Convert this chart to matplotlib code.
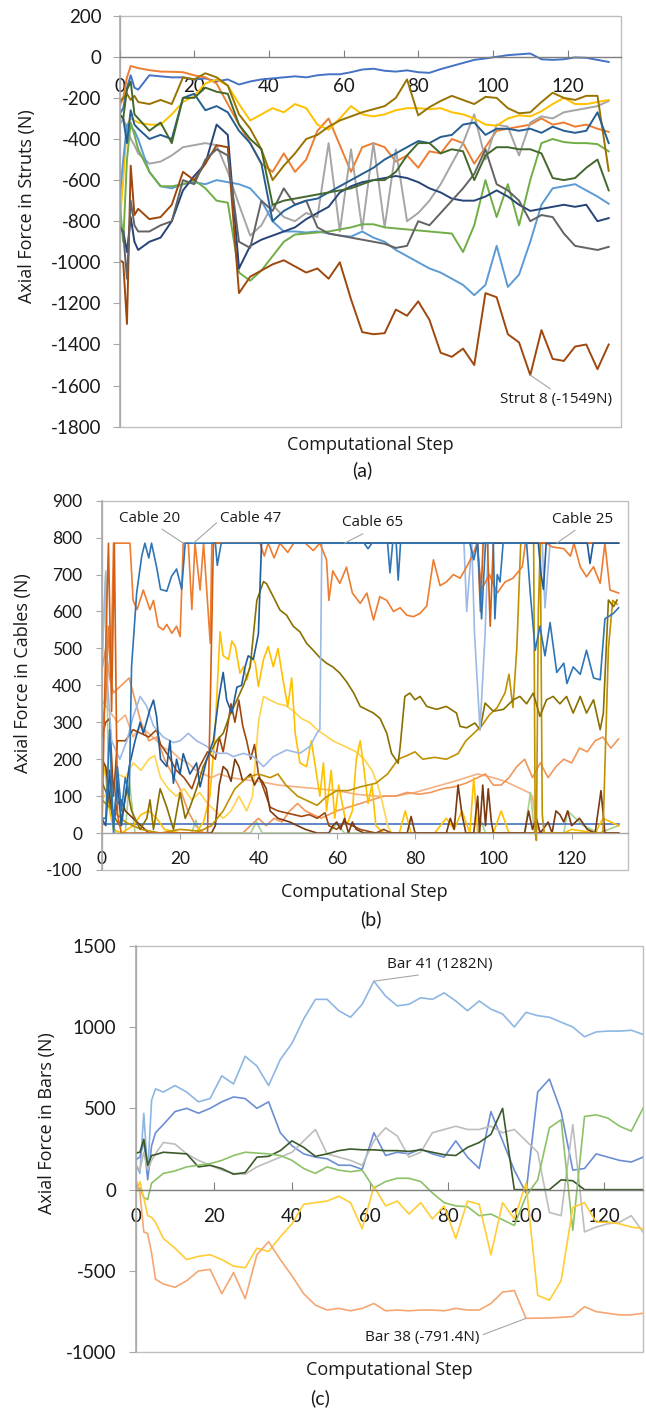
import matplotlib
matplotlib.use("Agg")
import matplotlib.pyplot as plt
from matplotlib.patches import Rectangle

plt.rcParams["font.family"] = ["Open Sans", "DejaVu Sans"]
plt.rcParams["axes.unicode_minus"] = False

FIG_W, FIG_H = 646, 1408
NUM_FONT = ["Lato", "DejaVu Sans"]
TEXT_COLOR = "#1a1a1a"

# ---------------- (a) axial force in struts ----------------
STEPS_A = [0, 1, 2, 3, 4] + list(range(5, 132, 3))

STRUT_COLORS = ["#4472C4", "#ED7D31", "#A5A5A5", "#FFC000", "#5B9BD5", "#70AD47",
                "#264478", "#9E480E", "#636363", "#997300", "#255E91", "#43682B"]

STRUT_BLUE = [-280, -250, -150, -90, -150, -160,
              -90, -95, -100, -100, -110, -105, -120, -110, -135, -120,
              -110, -105, -100, -95, -100, -90, -85, -85, -75, -62,
              -58, -68, -72, -66, -75, -78, -60, -45, -30, -15,
              -8, 0, 8, 12, 16, -12, -15, -12, -3, -5,
              -15, -25]
STRUT_ORANGE = [-240, -200, -100, -45, -50, -55,
                -65, -72, -73, -75, -90, -100, -130, -230, -330, -420,
                -520, -560, -470, -560, -500, -360, -300, -430, -560, -440,
                -420, -440, -510, -480, -540, -460, -470, -400, -420, -520,
                -440, -360, -350, -340, -330, -300, -330, -320, -340, -330,
                -350, -365]
STRUT_GREY = [-330, -300, -350, -400, -430, -470,
              -520, -510, -480, -440, -430, -420, -430, -560, -720, -870,
              -820, -720, -780, -800, -760, -780, -420, -850, -450, -840,
              -420, -830, -450, -800, -760, -700, -620, -520, -420, -280,
              -500, -330, -340, -480, -320, -290, -300, -270, -260, -250,
              -240, -215]
STRUT_GOLD = [-820, -600, -330, -300, -310, -320,
              -330, -330, -280, -220, -190, -130, -110, -140, -230, -310,
              -280, -250, -270, -230, -250, -330, -355, -300, -240, -280,
              -290, -280, -260, -250, -250, -255, -250, -270, -280, -300,
              -330, -335, -300, -285, -290, -265, -230, -200, -230, -230,
              -220, -210]
STRUT_LIGHT_BLUE = [-700, -500, -330, -340, -360, -400,
                    -560, -630, -640, -620, -610, -620, -600, -610, -620, -640,
                    -700, -800, -850, -850, -855, -850, -860, -870, -875, -850,
                    -880, -900, -940, -970, -1000, -1030, -1050, -1080, -1110, -1160,
                    -1110, -920, -1120, -1060, -900, -720, -640, -630, -620, -650,
                    -680, -715]
STRUT_GREEN = [-700, -900, -500, -320, -380, -450,
               -560, -630, -630, -620, -600, -640, -700, -710, -1050, -1090,
               -1040, -970, -900, -865, -860, -855, -850, -840, -830, -815,
               -815, -830, -835, -840, -845, -850, -855, -860, -950, -820,
               -600, -780, -620, -820, -600, -420, -400, -415, -420, -420,
               -425, -460]
STRUT_NAVY = [-830, -850, -950, -780, -900, -940,
              -900, -880, -800, -650, -580, -520, -330, -380, -1030, -920,
              -890, -870, -850, -830, -790, -760, -730, -660, -630, -610,
              -600, -590, -580, -590, -610, -640, -660, -690, -700, -700,
              -680, -650, -680, -720, -750, -740, -730, -720, -730, -720,
              -800, -785]
STRUT_8 = [-990, -1000, -1300, -530, -770, -740,
           -790, -780, -720, -560, -600, -520, -430, -440, -1150, -1070,
           -1040, -1010, -990, -1020, -1050, -1030, -1080, -1000, -1180, -1340,
           -1350, -1345, -1230, -1260, -1190, -1280, -1440, -1460, -1420, -1500,
           -1150, -1170, -1350, -1390, -1549, -1330, -1470, -1480, -1410, -1400,
           -1520, -1400]
STRUT_DARK_GREY = [-820, -860, -1080, -700, -820, -850,
                   -850, -820, -800, -600, -620, -500, -450, -480, -900, -930,
                   -700, -750, -640, -720, -700, -830, -860, -870, -880, -890,
                   -900, -910, -930, -920, -800, -820, -760, -700, -640, -570,
                   -450, -620, -650, -700, -800, -770, -780, -860, -920, -930,
                   -940, -925]
STRUT_OLIVE = [-220, -200, -180, -210, -190, -220,
               -230, -210, -230, -100, -110, -80, -100, -140, -280, -350,
               -450, -600, -530, -470, -400, -380, -340, -310, -290, -270,
               -255, -240, -200, -110, -285, -245, -215, -190, -210, -230,
               -195, -200, -250, -275, -270, -220, -175, -200, -210, -190,
               -190, -555]
STRUT_STEEL = [-280, -300, -420, -260, -330, -350,
               -400, -380, -400, -200, -180, -260, -240, -270, -360, -420,
               -520, -800, -750, -720, -700, -690, -660, -630, -600, -570,
               -540, -500, -470, -440, -410, -420, -390, -380, -330, -320,
               -380, -350, -350, -360, -350, -370, -340, -360, -370, -360,
               -270, -420]
STRUT_DARK_GREEN = [-280, -300, -160, -120, -280, -300,
                    -360, -320, -420, -200, -200, -150, -170, -180, -330, -400,
                    -450, -720, -700, -690, -680, -670, -660, -650, -640, -620,
                    -600, -600, -560, -480, -420, -420, -470, -450, -460, -600,
                    -480, -440, -440, -450, -450, -470, -590, -600, -590, -540,
                    -500, -650]

STRUT_SERIES = [STRUT_BLUE, STRUT_ORANGE, STRUT_GREY, STRUT_GOLD, STRUT_LIGHT_BLUE,
                STRUT_GREEN, STRUT_NAVY, STRUT_8, STRUT_DARK_GREY, STRUT_OLIVE,
                STRUT_STEEL, STRUT_DARK_GREEN]

# ---------------- (b) axial force in cables (step, N) ----------------
CABLE_20 = [(0, 40), (1, 40), (2, 280), (3, 0), (4, 180), (5, 60), (6, 150), (7, 100),
            (7.6, 450), (8.9, 650), (10.2, 750), (11, 785), (12, 745), (12.7, 785),
            (14, 720), (15, 660), (16.6, 655), (17.8, 695), (19.1, 715), (20.4, 660),
            (21.3, 785), (29, 785), (29.5, 725), (30.5, 785), (67, 785), (68, 770),
            (69, 785), (73, 785), (73.6, 705), (74.3, 785), (75.2, 785), (75.7, 685),
            (76.3, 785), (94, 785), (95, 740), (96, 785), (97, 580), (98, 785),
            (100, 785), (100.4, 580), (101, 700), (101.7, 680), (102.5, 785),
            (108.5, 785), (109.4, 655), (110.7, 495), (111.9, 560), (113.2, 480),
            (114.5, 570), (116.2, 435), (118, 460), (118.8, 405), (120.4, 450),
            (122.2, 430), (123.8, 495), (125.6, 420), (127.3, 415), (128.5, 580),
            (130.7, 595), (132, 610)]
CABLE_47 = [(0, 40), (1, 20), (2, 170), (3, 20), (4, 140), (5, 20), (6, 100), (7, 180),
            (8.5, 250), (9.8, 300), (10.6, 270), (12.3, 335), (13.2, 360), (14, 315),
            (15, 200), (16.6, 180), (17.4, 250), (18.3, 135), (19.1, 200), (20, 160),
            (20.8, 215), (22.5, 160), (24.2, 190), (25.1, 125), (26.8, 200), (28.5, 250),
            (29.8, 360), (31, 435), (31.9, 360), (33.2, 325), (34.5, 395), (35.7, 400),
            (36.6, 450), (37.4, 480), (38.7, 470), (40, 540), (40.8, 785), (111.5, 785),
            (112.2, 700), (112.8, 660), (113.5, 785), (124, 785), (124.7, 730),
            (125.5, 785), (132, 785)]
CABLE_65 = [(0, 450), (1, 710), (1.5, 400), (2.5, 250), (4.6, 200), (6.4, 250), (8, 315),
            (9.8, 370), (11.5, 343), (13.2, 290), (15.7, 260), (18.3, 245), (20, 250),
            (22.1, 270), (24.2, 250), (26.8, 235), (29.3, 216), (32, 216), (33.6, 207),
            (36.2, 216), (38.7, 207), (41.3, 180), (43.8, 207), (47.2, 225), (50.6, 216),
            (53.2, 235), (54.9, 270), (55.7, 280), (56.2, 785), (92.5, 785), (93.2, 600),
            (94.5, 785), (95.2, 540), (96.6, 280), (97.9, 540), (98.7, 785), (112.5, 785),
            (113.2, 610), (114.5, 785), (132, 785)]
CABLE_ORANGE = [(0, 280), (1, 360), (1.7, 560), (2.3, 420), (3, 785), (7.2, 785), (8, 630),
                (9, 605), (10.6, 658), (11.5, 630), (12.3, 605), (13.2, 630), (14.4, 560),
                (15.7, 550), (16.6, 565), (17.9, 541), (19.1, 560), (20, 532), (20.8, 785),
                (22.1, 785), (23, 605), (23.8, 785), (25.1, 658), (26, 785), (27.7, 514),
                (28.1, 785), (40.4, 785), (41.5, 750), (42.5, 785), (44, 745), (45.5, 785),
                (47.5, 760), (49, 785), (52, 785), (54, 765), (55.7, 785), (57.4, 740),
                (58, 630), (59, 710), (60.8, 676), (62.5, 720), (64, 650), (66, 622),
                (67.7, 650), (69.4, 577), (71, 640), (72.8, 630), (74.5, 600), (76.2, 610),
                (77.9, 590), (79.6, 586), (81.3, 595), (83, 615), (84.7, 740), (86.4, 670),
                (88, 680), (89.8, 700), (91.5, 690), (93.2, 721), (94.9, 757), (95.8, 785),
                (97, 660), (99, 700), (101, 650), (103, 680), (105, 690), (107.4, 721),
                (108.2, 785), (113.6, 785), (115, 775), (118, 770), (119.7, 750),
                (120.6, 785), (122.2, 721), (123.8, 694), (125.6, 721), (127.3, 676),
                (128.5, 785), (129.8, 658), (132, 650)]
CABLE_25 = [(0, 0), (1, 500), (1.7, 785), (2.5, 330), (3.2, 785), (4, 50), (5, 0), (27, 0),
            (27.8, 400), (28.5, 785), (96, 785), (96.7, 600), (97.4, 785), (98.5, 785),
            (99.2, 560), (100, 785), (132, 785)]
CABLE_OLIVE = [(0, 140), (1.5, 100), (2.8, 50), (4.6, 20), (6.5, 120), (7.6, 60), (9.8, 10),
               (11.5, 40), (12.3, 90), (13.2, 10), (14.9, 120), (16.6, 70), (18.3, 10),
               (20, 110), (21.3, 40), (22.5, 70), (24.2, 120), (25.9, 180), (27.6, 215),
               (29.3, 250), (31, 270), (32.7, 320), (34.5, 360), (36.2, 400), (37.9, 450),
               (39.6, 630), (41.3, 681), (42.1, 675), (43.8, 640), (45.5, 604), (47.2, 590),
               (48.9, 560), (50.6, 545), (52.3, 514), (54, 495), (55.7, 475), (57.4, 460),
               (59, 450), (60.8, 433), (62.5, 410), (64.3, 380), (66, 343), (69.4, 325),
               (71.1, 310), (72.8, 270), (74, 216), (75.7, 189), (76.2, 234), (77.4, 370),
               (78.7, 379), (80, 361), (81.3, 370), (83, 343), (85.5, 335), (88, 343),
               (90.6, 325), (91.5, 289), (93.2, 285), (95.3, 298), (96.6, 280), (97.9, 352),
               (100, 330), (102.6, 335), (105.1, 361), (106.8, 370), (108.5, 350),
               (110.2, 379), (111.9, 316), (113.6, 361), (115.3, 370), (117, 350),
               (118.7, 370), (120.4, 325), (122.2, 370), (123.8, 325), (125.6, 361),
               (127.3, 280), (128.1, 325), (129.4, 631), (130.7, 613), (131.6, 631)]
CABLE_DARK_GOLD = [(0, 90), (3, 60), (6, 30), (10, 10), (15, 0), (20, 10), (25, 5), (28, 20),
                   (31, 60), (34, 120), (37, 150), (40, 160), (43, 150), (45, 160), (47, 130),
                   (50, 100), (53, 85), (55, 75), (57, 95), (60, 115), (63, 115), (66, 125),
                   (70, 135), (73, 160), (75.7, 200), (78, 210), (80, 220), (82, 200),
                   (85, 205), (88, 200), (91, 215), (93, 250), (95, 270), (97, 290), (99, 320),
                   (101, 340), (103, 380), (104, 430), (105, 340), (106, 500), (107, 785),
                   (110.3, 785), (110.7, 0), (111, -20), (111.5, 600), (112, 785), (112.5, 50),
                   (113, 0), (128, 0), (129.4, 500), (130.5, 630), (131.6, 620)]
CABLE_GOLD = [(0, 220), (1, 150), (2, 60), (3, 10), (5, 0), (8, 20), (10, 50), (12, 60),
              (14, 40), (16, 10), (20, 0), (24, 0), (26, 30), (27.6, 100), (28.9, 270),
              (30.2, 545), (31, 480), (32.4, 470), (33.2, 520), (34.1, 505), (35.3, 433),
              (36.2, 451), (37.1, 415), (38.3, 478), (39.2, 460), (40, 397), (41.3, 470),
              (42.5, 505), (43.8, 450), (45, 500), (46.2, 420), (47.5, 343), (48.5, 420),
              (49.4, 270), (50.6, 190), (52.3, 180), (53.5, 250), (54.4, 190), (55.7, 100),
              (56.6, 190), (57.4, 60), (58.6, 170), (59.5, 40), (60.5, 130), (62.5, 20),
              (64, 60), (65, 200), (66, 250), (67, 170), (68, 80), (69, 130), (70, 20),
              (72, 0), (76, 0), (77.5, 60), (79, 0), (85, 0), (88, 40), (90, 10), (92, 60),
              (94, 0), (95, 150), (96, 0), (100, 0), (102, 60), (104, 0), (118, 0),
              (120, 10), (126, 0), (128, 40), (132, 20)]
CABLE_LIGHT_GOLD = [(0, 90), (2, 120), (4, 160), (6, 150), (8, 190), (10, 170), (12, 200),
                    (13.5, 210), (15, 150), (17, 120), (19, 100), (21, 120), (23, 90),
                    (25, 110), (27, 80), (29, 60), (31, 40), (33, 60), (35, 100), (37, 60),
                    (38.5, 100), (40, 300), (41.3, 370), (43, 360), (45, 350), (47, 345),
                    (49, 330), (51, 310), (53, 300), (55, 280), (57, 265), (59, 250),
                    (61, 240), (63, 230), (65, 220), (67, 200), (69, 170), (70.5, 130),
                    (71.5, 90), (73, 20), (74, 0), (132, 0)]
CABLE_BROWN = [(0, 260), (1, 300), (2, 310), (3, 100), (4, 250), (6, 250), (8, 280), (10, 270),
               (12, 260), (14, 280), (15, 240), (17, 210), (19, 170), (21, 150), (23, 120),
               (25, 180), (27, 220), (29, 200), (30, 260), (31, 220), (32, 280), (33, 350),
               (34, 300), (35, 360), (36, 290), (37, 250), (38, 200), (39, 240), (40, 160),
               (41, 130), (42, 100), (43, 70), (45, 60), (47, 55), (49, 50), (51, 45),
               (53, 50), (55, 40), (57, 55), (58, 20), (60, 10), (62, 30), (64, 20), (66, 10),
               (68, 5), (70, 0), (72, 10), (74, 0), (132, 0)]
CABLE_DARK_BROWN = [(0, 200), (1, 180), (2, 100), (3, 30), (4, 80), (5, 90), (6, 60), (8, 40),
                    (10, 20), (12, 0), (28, 0), (29, 20), (30, 130), (31, 180), (32, 170),
                    (33, 140), (34, 200), (35, 180), (36, 140), (37, 150), (38, 160),
                    (39, 130), (40, 150), (41, 140), (42, 120), (43, 60), (45, 40), (48, 30),
                    (50, 20), (52, 10), (55, 0), (58, 0), (59, 20), (60, 30), (61, 10),
                    (62, 40), (63, 0), (64, 30), (65, 10), (67, 0), (78, 0), (79, 45), (80, 0),
                    (88, 0), (89, 40), (90, 10), (91, 130), (92, 50), (93, 0), (95, 0),
                    (96, 100), (96.5, 0), (97.3, 130), (98, 20), (98.7, 120), (99.5, 30),
                    (100, 0), (108, 0), (109, 60), (110, 10), (111, 40), (112, 0), (114, 30),
                    (115, 0), (116, 60), (117, 50), (118, 30), (119, 60), (120, 20),
                    (122, 40), (124, 10), (126, 0), (127.5, 115), (128.5, 0), (132, 0)]
CABLE_SALMON = [(0, 360), (2, 330), (4, 300), (6, 320), (8, 260), (10, 290), (12, 270),
                (14, 250), (16, 230), (18, 220), (20, 200), (22, 190), (24, 170), (26, 160),
                (28, 150), (30, 160), (33, 150), (36, 145), (40, 140), (45, 130), (50, 125),
                (55, 120), (60, 115), (65, 105), (70, 100), (75, 100), (80, 110), (85, 125),
                (90, 140), (93, 150), (96, 160), (98, 155), (100, 150), (103, 140),
                (106, 125), (109, 110), (110, 100), (111, 20), (112, 0), (132, 0)]
CABLE_LIGHT_ORANGE = [(0, 440), (1, 500), (2, 420), (3, 380), (5, 400), (7, 420), (8, 380),
                      (10, 300), (12, 250), (14, 260), (16, 200), (18, 160), (20, 120),
                      (22, 60), (24, 20), (26, 0), (36, 0), (38, 20), (40, 40), (42, 20),
                      (44, 40), (46, 30), (48, 60), (50, 80), (52, 60), (54, 50), (56, 40),
                      (58, 50), (60, 60), (63, 70), (66, 80), (69, 90), (72, 100), (75, 100),
                      (78, 110), (81, 105), (84, 110), (87, 120), (90, 125), (93, 135),
                      (96, 150), (98, 160), (100, 130), (102, 130), (104, 150), (106, 180),
                      (108, 200), (110, 150), (112, 190), (114, 150), (116, 180), (118, 200),
                      (120, 190), (122, 230), (124, 220), (126, 250), (128, 260), (130, 230),
                      (132, 255)]
CABLE_FLAT = [(0, 25), (132, 25)]
CABLE_LIGHT_GREEN = [(0, 450), (1, 700), (1.6, 200), (2.5, 50), (3.5, 0), (6, 0), (7, 140),
                     (8.5, 0), (23, 0), (24, 35), (25, 0), (38, 0), (39.5, 30), (41, 0),
                     (58, 0), (60, 25), (62, 0), (96, 0), (97, 30), (98, 0), (108, 0),
                     (109.5, 110), (110.5, 0), (118, 0), (119, 60), (121, 40), (123, 20),
                     (125, 10), (127, 0), (132, 20)]

CABLE_SERIES = [
    (CABLE_SALMON, "#F4B183"), (CABLE_LIGHT_ORANGE, "#F1975A"), (CABLE_LIGHT_GREEN, "#A9D18E"),
    (CABLE_FLAT, "#4472C4"), (CABLE_LIGHT_GOLD, "#FFD34D"), (CABLE_GOLD, "#FFC000"),
    (CABLE_BROWN, "#9E480E"), (CABLE_DARK_BROWN, "#7B3A10"), (CABLE_DARK_GOLD, "#BF9000"),
    (CABLE_OLIVE, "#8A7000"), (CABLE_65, "#9DB9E6"), (CABLE_ORANGE, "#ED7D31"),
    (CABLE_25, "#D35F12"), (CABLE_47, "#1F5C99"), (CABLE_20, "#2E75B6"),
]

# ---------------- (c) axial force in bars ----------------
STEPS_C = [0, 1, 2, 3, 4, 5] + list(range(7, 131, 3))

BAR_41 = [150, 100, 470, 100, 550, 620,
          600, 640, 600, 540, 560, 700, 650, 820, 760, 640,
          800, 900, 1050, 1170, 1170, 1100, 1060, 1140, 1282, 1190,
          1130, 1140, 1180, 1170, 1210, 1160, 1100, 1160, 1110, 1080,
          1000, 1090, 1070, 1060, 1030, 1000, 940, 970, 975, 975,
          980, 955]
BAR_BLUE = [185, 200, 300, 60, 270, 350,
            400, 480, 500, 470, 500, 540, 570, 560, 500, 540,
            350, 270, 220, 200, 190, 150, 150, 125, 350, 210,
            230, 220, 250, 220, 200, 300, 200, 130, 480, 300,
            120, -20, 600, 680, 480, 120, 130, 220, 200, 180,
            170, 200]
BAR_GREY = [150, 120, 230, 120, 180, 220,
            290, 280, 220, 180, 150, 120, 100, 95, 140, 170,
            200, 230, 300, 370, 220, 200, 180, 150, 300, 380,
            330, 200, 230, 350, 370, 390, 370, 370, 390, 350,
            370, 300, 230, -140, -160, 400, -260, -230, -210, -200,
            -160, -260]
BAR_DARK_GREEN = [226, 230, 310, 150, 210, 215,
                  230, 225, 220, 140, 150, 130, 95, 105, 200, 205,
                  240, 300, 260, 205, 220, 240, 250, 245, 245, 240,
                  240, 235, 245, 230, 215, 210, 260, 290, 340, 500,
                  0, 0, 0, 0, 60, 55, 0, 0, 0, 0,
                  0, 0]
BAR_GREEN = [0, 10, -50, -60, 40, 60,
             100, 115, 140, 150, 160, 180, 210, 230, 225, 220,
             210, 180, 130, 100, 140, 120, 110, 120, 10, 50,
             70, 70, 50, -20, -80, -100, -105, -160, -150, -185,
             -220, -40, 60, 380, 430, -250, 450, 460, 440, 390,
             360, 500]
BAR_YELLOW = [-20, 50, -50, -160, -170, -200,
              -300, -360, -430, -410, -400, -430, -470, -480, -360, -380,
              -290, -210, -90, -80, -70, -40, -80, -240, 20, -100,
              -70, -150, -80, -180, -100, -300, -70, -90, -400, -80,
              -180, 40, -650, -680, -560, -110, -80, -200, -200, -210,
              -230, -240]
BAR_38 = [60, -20, -260, -270, -390, -550,
          -580, -600, -560, -500, -490, -640, -510, -670, -400, -320,
          -430, -530, -640, -710, -740, -730, -745, -730, -700, -745,
          -740, -745, -740, -740, -745, -730, -740, -740, -700, -630,
          -620, -791.4, -790, -789, -785, -780, -720, -750, -760, -770,
          -770, -760]

BAR_SERIES = [(BAR_41, "#8DB7E2"), (BAR_BLUE, "#6C8ED4"), (BAR_GREY, "#BDBDBD"),
              (BAR_DARK_GREEN, "#3B5A2A"), (BAR_GREEN, "#8CC168"), (BAR_YELLOW, "#FFCD33"),
              (BAR_38, "#F4A772")]


def fx(px):
    return px / FIG_W


def fy(py):
    return 1 - py / FIG_H


def make_axes(fig, left, top, right, bottom):
    ax = fig.add_axes([fx(left), fy(bottom), (right - left) / FIG_W, (bottom - top) / FIG_H])
    ax.add_patch(Rectangle((0, 0), 1, 1, transform=ax.transAxes, fill=False,
                           edgecolor="#BFBFBF", lw=1.0, clip_on=False, zorder=0.5))
    ax.spines["top"].set_visible(False)
    ax.spines["right"].set_visible(False)
    ax.spines["left"].set_color("#A6A6A6")
    ax.spines["left"].set_linewidth(1.1)
    ax.spines["bottom"].set_position(("data", 0))
    ax.spines["bottom"].set_color("#7F7F7F")
    ax.spines["bottom"].set_linewidth(1.0)
    return ax


def annotate(ax, text, xy, xytext, relpos):
    ax.annotate(text, xy=xy, xytext=xytext, ha="center", va="center", fontsize=11,
                color=TEXT_COLOR,
                arrowprops=dict(arrowstyle="-", color="#A6A6A6", lw=0.8,
                                relpos=relpos, shrinkA=1, shrinkB=0))


fig = plt.figure(figsize=(FIG_W / 100, FIG_H / 100), dpi=100)

# ---- panel (a)
ax_a = make_axes(fig, 119.5, 15.7, 621, 426.7)
for values, color in zip(STRUT_SERIES, STRUT_COLORS):
    ax_a.plot(STEPS_A, values, color=color, lw=1.4, solid_joinstyle="round")
ax_a.set_xlim(0, 134.3)
ax_a.set_ylim(-1800, 200)
ax_a.set_xticks(range(0, 121, 20))
ax_a.set_yticks(range(-1800, 201, 200))
ax_a.tick_params(axis="x", direction="in", length=5, color="#7F7F7F", pad=15,
                 labelsize=13.5, labelcolor=TEXT_COLOR, labelfontfamily=NUM_FONT)
ax_a.tick_params(axis="y", direction="out", length=5, color="#A6A6A6", pad=8,
                 labelsize=13.5, labelcolor=TEXT_COLOR, labelfontfamily=NUM_FONT)
annotate(ax_a, "Strut 8 (-1549N)", (110, -1549), (116.8, -1670), (0.5, 1.0))

# ---- panel (b)
ax_b = make_axes(fig, 101.8, 500.7, 628, 870)
for points, color in CABLE_SERIES:
    ax_b.plot([p[0] for p in points], [p[1] for p in points], color=color, lw=1.2,
              solid_joinstyle="round")
ax_b.spines["bottom"].set_color("#A6A6A6")
ax_b.set_xlim(0, 134.4)
ax_b.set_ylim(-100, 900)
ax_b.set_xticks(range(0, 121, 20))
ax_b.set_yticks(range(-100, 901, 100))
ax_b.tick_params(axis="x", direction="out", length=4, color="#A6A6A6", pad=9,
                 labelsize=12.5, labelcolor=TEXT_COLOR, labelfontfamily=NUM_FONT)
ax_b.tick_params(axis="y", direction="out", length=4, color="#A6A6A6", pad=10,
                 labelsize=12.5, labelcolor=TEXT_COLOR, labelfontfamily=NUM_FONT)
annotate(ax_b, "Cable 20", (20.8, 785), (12.1, 853), (0.62, 0.0))
annotate(ax_b, "Cable 47", (23.4, 785), (38.1, 853), (0.0, 0.4))
annotate(ax_b, "Cable 65", (62, 785), (69.2, 840), (0.45, 0.0))
annotate(ax_b, "Cable 25", (116.2, 785), (122.8, 850), (0.46, 0.0))

# ---- panel (c)
ax_c = make_axes(fig, 136, 945.7, 643, 1352.3)
for values, color in BAR_SERIES:
    ax_c.plot(STEPS_C, values, color=color, lw=1.2, solid_joinstyle="round")
ax_c.set_xlim(0, 130)
ax_c.set_ylim(-1000, 1500)
ax_c.set_xticks(range(0, 121, 20))
ax_c.set_yticks(range(-1000, 1501, 500))
ax_c.tick_params(axis="x", direction="in", length=5.5, color="#7F7F7F", pad=13,
                 labelsize=13.5, labelcolor=TEXT_COLOR, labelfontfamily=NUM_FONT)
ax_c.tick_params(axis="y", direction="out", length=5, color="#A6A6A6", pad=9,
                 labelsize=13.5, labelcolor=TEXT_COLOR, labelfontfamily=NUM_FONT)
annotate(ax_c, "Bar 41 (1282N)", (61, 1282), (77.9, 1384), (0.5, 0.0))
annotate(ax_c, "Bar 38 (-791.4N)", (100, -791.4), (73.3, -910), (1.0, 0.6))

# ---- axis titles and panel letters
for label, x, y in [("Axial Force in Struts (N)", 26.8, 206),
                    ("Axial Force in Cables (N)", 22.7, 673),
                    ("Axial Force in Bars (N)", 47.4, 1123)]:
    fig.text(fx(x), fy(y), label, rotation=90, ha="center", va="center",
             fontsize=13, color=TEXT_COLOR)
for x, y in [(370.8, 445), (364.6, 892.3), (389.4, 1370)]:
    fig.text(fx(x), fy(y), "Computational Step", ha="center", va="center",
             fontsize=13, color=TEXT_COLOR)
for label, x, y in [("(a)", 362, 470), ("(b)", 371, 919), ("(c)", 320.5, 1398)]:
    fig.text(fx(x), fy(y), label, ha="center", va="center", fontsize=14,
             color=TEXT_COLOR, family=NUM_FONT)

fig.savefig("out.png", dpi=100)
